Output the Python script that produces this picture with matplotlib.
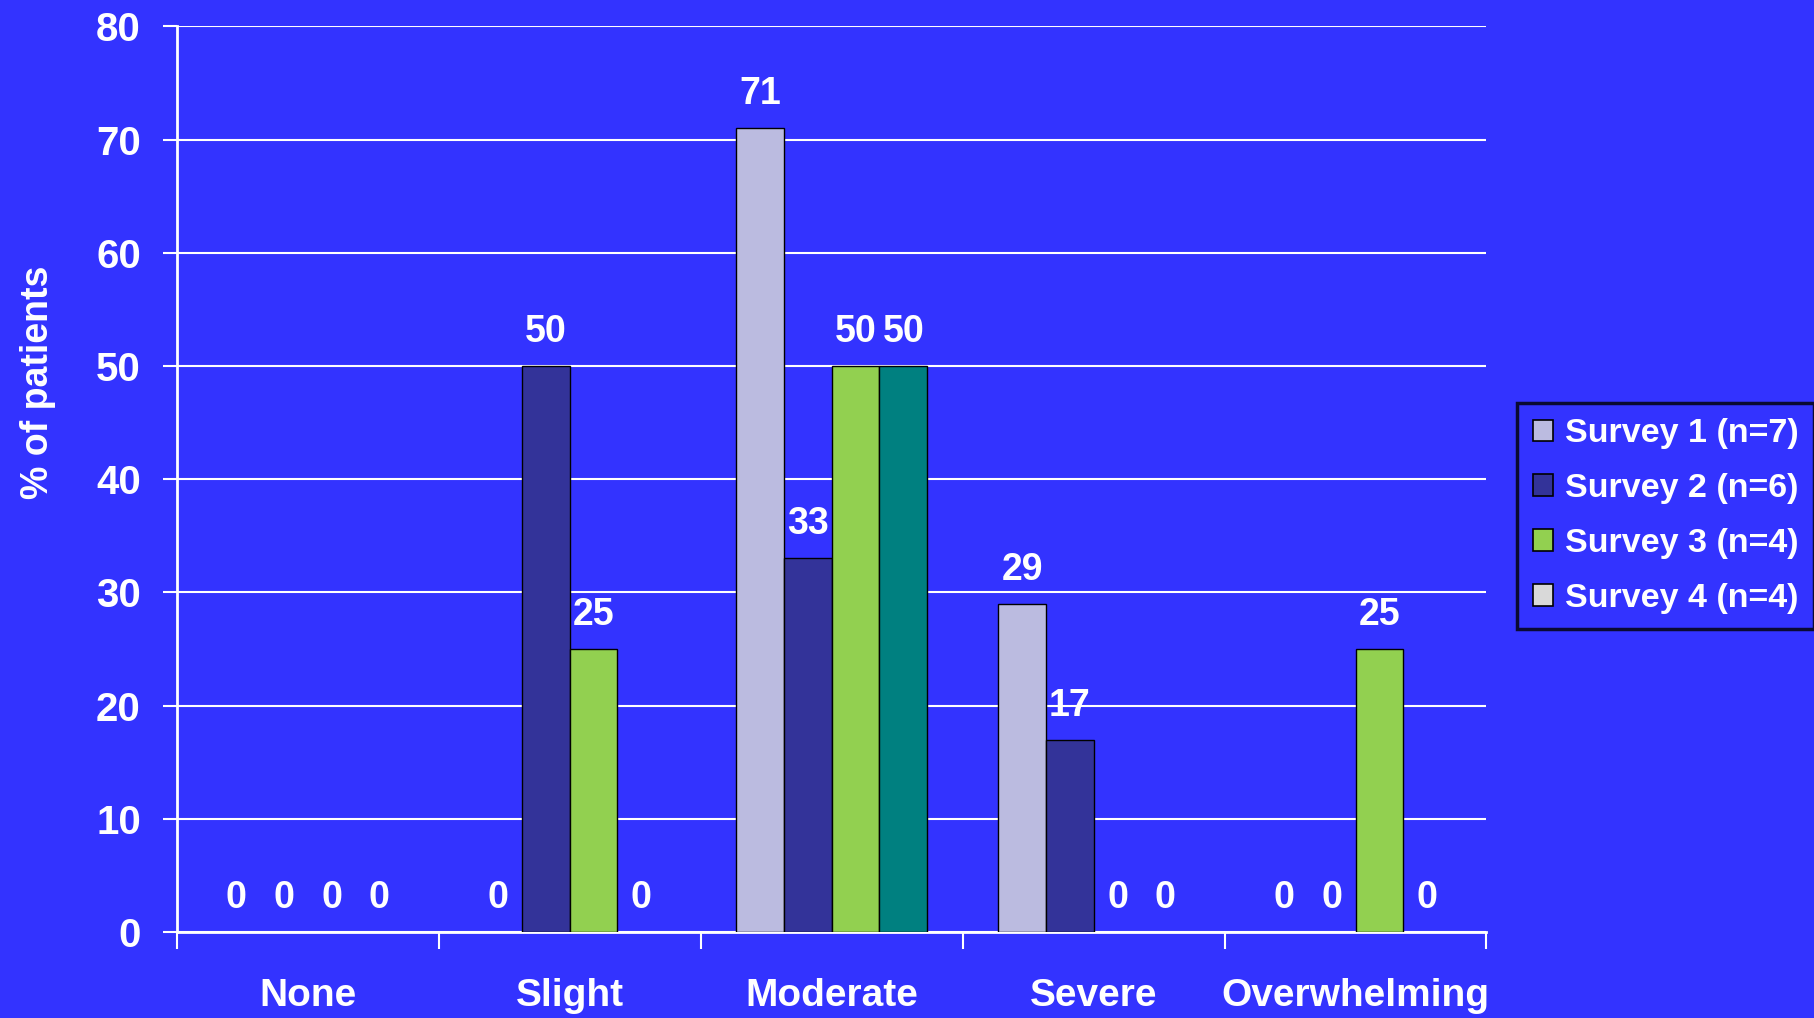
import matplotlib.pyplot as plt
import numpy as np
from matplotlib.patches import Patch

categories = ['None', 'Slight', 'Moderate', 'Severe', 'Overwhelming']
series_names = ['Survey 1 (n=7)', 'Survey 2 (n=6)', 'Survey 3 (n=4)', 'Survey 4 (n=4)']
survey1 = [0, 0, 71, 29, 0]
survey2 = [0, 50, 33, 17, 0]
survey3 = [0, 25, 50, 0, 25]
survey4 = [0, 0, 50, 0, 0]
values = [survey1, survey2, survey3, survey4]
bar_colors = ['#BBBBE0', '#333399', '#92D050', '#008080']
legend_colors = ['#BBBBE0', '#333399', '#92D050', '#D9D9D9']

bg = '#3333FF'
plt.rcParams['font.family'] = ['Liberation Sans', 'DejaVu Sans']
plt.rcParams['font.weight'] = 'bold'

fig = plt.figure(figsize=(18.15, 10.18), dpi=100, facecolor=bg)
ax = fig.add_axes([0.0975, 0.0845, 0.7215, 0.8895], facecolor=bg)

x = np.arange(len(categories))
w = 0.182
for i, vals in enumerate(values):
    pos = x + (i - 1.5) * w
    bars = ax.bar(pos, vals, w, color=bar_colors[i], edgecolor='black', linewidth=1, zorder=3)
    for b, v in zip(bars, vals):
        if v == 0:
            b.set_linewidth(0)
    for p, v in zip(pos, vals):
        ax.text(p, v + 3, str(v), ha='center', va='center', color='white',
                fontsize=27, fontweight='bold', zorder=4)

ax.set_xlim(-0.5, len(categories) - 0.5)
ax.set_ylim(0, 80)
ax.set_yticks(range(0, 81, 10))
ax.yaxis.grid(True, color='white', linewidth=1.5, zorder=0)
ax.set_axisbelow(True)

ax.set_xticks(np.arange(-0.5, len(categories), 1.0))
ax.set_xticklabels([])
ax.set_xticks(x, minor=True)
ax.set_xticklabels(categories, minor=True)
ax.tick_params(axis='x', which='minor', length=0, pad=33, labelsize=28, labelcolor='white')
ax.tick_params(axis='x', which='major', length=12, width=1.5, color='white', direction='out')
ax.tick_params(axis='y', length=10, width=1.5, color='white', labelsize=29,
               labelcolor='white', pad=16)

for s in ['top', 'right']:
    ax.spines[s].set_visible(False)
for s in ['left', 'bottom']:
    ax.spines[s].set_color('white')
    ax.spines[s].set_linewidth(2)

ax.set_ylabel('% of patients', color='white', fontsize=27, fontweight='bold')
ax.yaxis.set_label_coords(-0.092, 0.607)

handles = [Patch(facecolor=c, edgecolor='black', linewidth=1.2) for c in legend_colors]
leg = fig.legend(handles, series_names, loc='upper left', bbox_to_anchor=(0.836, 0.604),
                 frameon=True, fancybox=False, facecolor=bg, edgecolor='black',
                 fontsize=24.5, labelcolor='white', handlelength=0.6, handleheight=0.6,
                 handletextpad=0.35, labelspacing=0.7, borderpad=0.45, borderaxespad=0)
leg.get_frame().set_linewidth(2.5)

fig.savefig('out.png', dpi=100, facecolor=bg)
